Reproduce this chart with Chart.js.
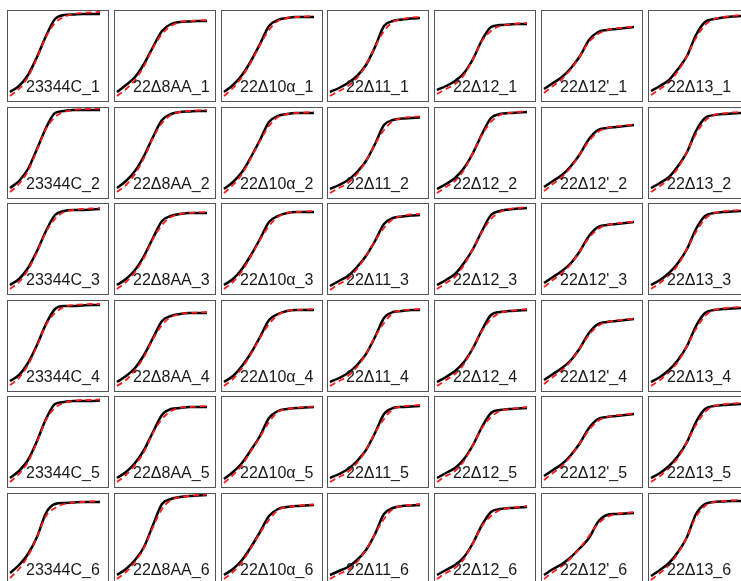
<!DOCTYPE html>
<html>
<head>
<meta charset="utf-8">
<title>Growth curves</title>
<script src="https://cdn.jsdelivr.net/npm/chart.js@4.4.1/dist/chart.umd.min.js"></script>
<style>
  html, body { margin: 0; padding: 0; background: #fff; }
  body { width: 741px; height: 581px; overflow: hidden; position: relative; }
  .panel {
    position: absolute;
    width: 102px; height: 92px;
    box-sizing: border-box;
    border: 1px solid #555;
    background: #fff;
  }
  .panel canvas { position: absolute; left: 0; top: 0; }
  .panel .lbl {
    position: absolute;
    left: 18px; top: 68px;
    font-family: "Liberation Sans", Arial, Helvetica, sans-serif;
    font-size: 16px; line-height: 16px;
    color: #1a1a1a;
    white-space: nowrap;
    pointer-events: none;
  }
</style>
</head>
<body>
<script>
/* =============================================================================
   1. DATA (time units, OD units)
   ============================================================================= */

const strains  = ['23344C', '22Δ8AA', '22Δ10α', '22Δ11', '22Δ12', "22Δ12'", '22Δ13'];
const replicates = [1, 2, 3, 4, 5, 6];
const timePoints = [0, 9, 18, 27, 36, 45, 54, 63, 72, 81, 90];

/* observed curves (black), one row per replicate */
const obs_23344C = [
  [10, 16, 27, 45, 66, 83, 87, 87.5, 88, 88, 88],
  [11, 18, 30, 50, 71, 86, 88, 89, 89, 89, 89],
  [10, 16, 27, 44, 64, 80, 84, 85, 85, 85.5, 86],
  [11, 17, 29, 47, 68, 83, 86, 86, 86.5, 87, 87],
  [10, 17, 28, 47, 69, 84, 86, 87, 87, 87, 87.5],
  [12, 20, 31, 48, 72, 81, 82, 82.5, 83, 83, 83]
];
const obs_22d8AA = [
  [10, 17, 25, 38, 55, 71, 78, 80, 80.5, 81, 81],
  [11, 18, 28, 43, 62, 79, 85, 87, 87.5, 88, 88],
  [10, 16, 25, 39, 57, 74, 79, 81, 82, 82, 82],
  [10, 16, 24, 37, 54, 71, 76, 78, 79, 79, 79],
  [10, 16, 25, 38, 56, 73, 79, 80, 81, 81, 81],
  [10, 16, 25, 38, 60, 81, 86, 88, 89, 89.5, 90]
];
const obs_22d10a = [
  [10, 17, 27, 41, 58, 76, 82, 84, 85, 85, 85],
  [10, 17, 27, 42, 59, 77, 83, 85, 86, 86, 86],
  [10, 16, 26, 40, 56, 73, 79, 82, 83, 83, 83],
  [10, 16, 26, 39, 55, 72, 78, 81, 82, 82, 82],
  [9, 16, 25, 38, 52, 70, 77, 79, 80, 80.5, 81],
  [10, 16, 25, 38, 53, 69, 76, 78, 79, 79.5, 80]
];
const obs_22d11 = [
  [10, 14, 19, 26, 37, 55, 76, 81, 82.5, 83.5, 84],
  [10, 14, 19, 27, 38, 55, 74, 79, 80.5, 81, 81.5],
  [9, 14, 19, 28, 39, 54, 71, 77, 78.5, 79.5, 80],
  [10, 14, 19, 27, 38, 55, 74, 80, 81, 82, 82],
  [10, 14, 19, 27, 38, 55, 74, 80, 81, 81.5, 82],
  [10, 14, 18, 25, 35, 51, 71, 77, 79, 79.5, 80]
];
const obs_22d12 = [
  [12, 16, 21, 29, 43, 62, 75, 77, 77.5, 78, 78],
  [10, 15, 21, 31, 46, 65, 81, 85, 86, 86.5, 87],
  [10, 15, 21, 32, 46, 64, 80, 84, 85.5, 86.5, 87],
  [10, 15, 21, 30, 44, 62, 77, 80, 81, 81.5, 82],
  [10, 15, 20, 29, 43, 61, 75, 78, 79, 79.5, 80],
  [10, 15, 20, 28, 42, 60, 73, 76, 77, 77.5, 78]
];
const obs_22d12p = [
  [13, 19, 25, 34, 46, 62, 70, 72, 73, 74, 75],
  [12, 18, 24, 33, 45, 60, 69, 71, 72, 73, 74],
  [12, 18, 24, 32, 44, 59, 68, 70, 71, 72, 73],
  [12, 18, 24, 32, 44, 59, 68, 70, 71, 72, 73],
  [12, 18, 24, 33, 45, 60, 69, 71, 72, 73, 74],
  [10, 16, 21, 28, 37, 47, 63, 70, 71, 71.5, 72]
];
const obs_22d13 = [
  [11, 16, 22, 33, 46, 67, 80, 83, 84.5, 85.5, 86],
  [11, 16, 22, 33, 47, 68, 81, 84, 85, 85.5, 86],
  [10, 15, 22, 32, 46, 66, 79, 82, 83, 83.5, 84],
  [10, 15, 22, 32, 46, 66, 79, 82, 83, 83.5, 84],
  [10, 15, 22, 32, 46, 66, 79, 82, 83, 83.5, 84],
  [9, 15, 22, 33, 48, 71, 81, 83, 83.5, 84, 84]
];

/* fitted curves (red dashed), one row per replicate */
const fit_23344C = [
  [6, 13, 25, 44, 65, 79, 85, 88, 89, 89.5, 90],
  [7, 15, 28, 49, 70, 82, 87, 89, 90, 90, 90.5],
  [6, 13, 25, 43, 63, 76, 83, 85, 86, 86.5, 87],
  [7, 14, 27, 46, 67, 79, 85, 87, 87.5, 88, 88],
  [6, 14, 26, 46, 68, 80, 85, 87, 88, 88, 88.5],
  [7, 16, 29, 48, 69, 77, 81, 82.5, 83, 83.5, 84]
];
const fit_22d8AA = [
  [6, 13, 22, 36, 54, 68, 76, 80, 81, 81.5, 82],
  [7, 14, 25, 41, 61, 76, 84, 87, 88, 88.5, 89],
  [6, 13, 23, 37, 56, 70, 78, 81, 82, 82.5, 83],
  [6, 12, 22, 35, 53, 67, 75, 78, 79, 79.5, 80],
  [6, 13, 23, 36, 55, 69, 77, 80, 81, 81.5, 82],
  [6, 13, 23, 37, 58, 76, 85, 88, 89, 90, 90.5]
];
const fit_22d10a = [
  [6, 14, 25, 40, 57, 72, 81, 84, 85, 85.5, 86],
  [6, 14, 25, 41, 58, 73, 82, 85, 86, 86.5, 87],
  [6, 13, 24, 39, 55, 69, 78, 82, 83, 83.5, 84],
  [6, 13, 24, 38, 54, 68, 77, 81, 82, 82.5, 83],
  [5, 13, 23, 37, 51, 66, 76, 79, 80, 81, 81.5],
  [6, 13, 23, 37, 52, 65, 75, 78, 79, 80, 80.5]
];
const fit_22d11 = [
  [6, 11, 16, 24, 37, 55, 71, 80, 83, 84.5, 85],
  [6, 11, 16, 25, 38, 55, 69, 78, 81, 82, 82.5],
  [5, 11, 16, 26, 39, 54, 67, 76, 79, 80.5, 81],
  [6, 11, 16, 25, 38, 55, 69, 79, 81.5, 82.5, 83],
  [6, 11, 16, 25, 38, 55, 69, 79, 81.5, 82.5, 83],
  [6, 11, 15, 23, 35, 51, 66, 76, 79, 80, 81]
];
const fit_22d12 = [
  [8, 13, 18, 27, 43, 61, 71, 76, 77.5, 78.5, 79],
  [6, 12, 18, 29, 46, 64, 77, 84, 86, 87, 88],
  [6, 12, 18, 30, 46, 63, 76, 83, 86, 87, 88],
  [6, 12, 18, 28, 44, 61, 73, 79, 81, 82, 83],
  [6, 12, 17, 27, 43, 60, 71, 77, 79, 80, 81],
  [6, 12, 17, 26, 42, 59, 69, 75, 77, 78, 79]
];
const fit_22d12p = [
  [9, 16, 23, 33, 46, 60, 68, 72, 73.5, 74.5, 75.5],
  [8, 15, 22, 32, 45, 58, 67, 71, 72.5, 73.5, 74.5],
  [8, 15, 22, 31, 44, 57, 66, 70, 71.5, 72.5, 73.5],
  [8, 15, 22, 31, 44, 57, 66, 70, 71.5, 72.5, 73.5],
  [8, 15, 22, 32, 45, 58, 67, 71, 72.5, 73.5, 74.5],
  [6, 13, 19, 27, 37, 49, 61, 68, 71, 72, 73]
];
const fit_22d13 = [
  [7, 13, 20, 31, 46, 64, 77, 83, 85, 86, 87],
  [7, 13, 20, 31, 47, 65, 78, 84, 85.5, 86.5, 87],
  [6, 12, 20, 30, 46, 63, 76, 82, 83.5, 84.5, 85],
  [6, 12, 20, 30, 46, 63, 76, 82, 83.5, 84.5, 85],
  [6, 12, 20, 30, 46, 63, 76, 82, 83.5, 84.5, 85],
  [5, 12, 20, 32, 48, 68, 79, 83, 84, 84.5, 85]
];

const observed = [obs_23344C, obs_22d8AA, obs_22d10a, obs_22d11, obs_22d12, obs_22d12p, obs_22d13];
const fitted   = [fit_23344C, fit_22d8AA, fit_22d10a, fit_22d11, fit_22d12, fit_22d12p, fit_22d13];

/* =============================================================================
   2. LAYOUT
   ============================================================================= */

const PANEL_W = 102, PANEL_H = 92;
const COL_X0 = 7,  COL_STEP = 106.8;
const ROW_Y0 = 10, ROW_STEP = 96.6;

function toPoints(ys) {
  return ys.map((y, i) => ({ x: timePoints[i], y: y }));
}

function makePanel(col, row) {
  const wrap = document.createElement('div');
  wrap.className = 'panel';
  wrap.style.left = Math.round(COL_X0 + col * COL_STEP) + 'px';
  wrap.style.top  = Math.round(ROW_Y0 + row * ROW_STEP) + 'px';

  const canvas = document.createElement('canvas');
  canvas.width  = PANEL_W - 2;
  canvas.height = PANEL_H - 2;
  wrap.appendChild(canvas);

  const lbl = document.createElement('div');
  lbl.className = 'lbl';
  lbl.textContent = strains[col] + '_' + replicates[row];
  wrap.appendChild(lbl);

  document.body.appendChild(wrap);

  new Chart(canvas, {
    type: 'line',
    data: {
      datasets: [
        {
          label: 'fit',
          data: toPoints(fitted[col][row]),
          borderColor: '#ff1a1a',
          borderWidth: 1.8,
          borderDash: [6, 4],
          cubicInterpolationMode: 'monotone',
          pointRadius: 0,
          fill: false,
          order: 1
        },
        {
          label: 'observed',
          data: toPoints(observed[col][row]),
          borderColor: '#000',
          borderWidth: 2.5,
          cubicInterpolationMode: 'monotone',
          pointRadius: 0,
          fill: false,
          order: 2
        }
      ]
    },
    options: {
      responsive: false,
      animation: false,
      events: [],
      layout: { padding: 0 },
      plugins: { legend: { display: false }, tooltip: { enabled: false } },
      scales: {
        x: { type: 'linear', display: false, min: -2, max: 98 },
        y: { type: 'linear', display: false, min: 1, max: 91 }
      }
    }
  });
}

/* =============================================================================
   3. BOOT
   ============================================================================= */

for (let r = 0; r < replicates.length; r++) {
  for (let c = 0; c < strains.length; c++) makePanel(c, r);
}
</script>
</body>
</html>
